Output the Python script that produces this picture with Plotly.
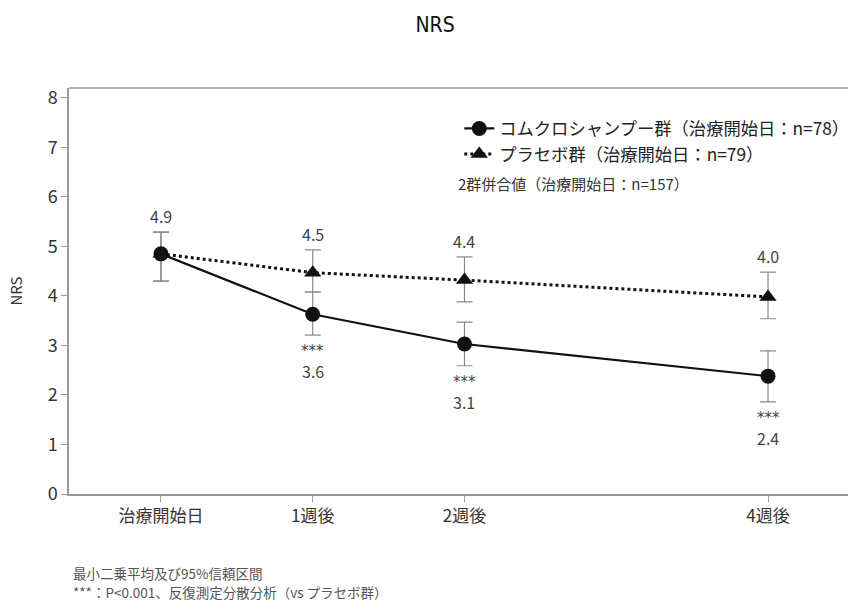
import plotly.graph_objects as go

weeks = [0, 1, 2, 4]
tick_labels = ["治療開始日", "1週後", "2週後", "4週後"]

comp_mean = [4.85, 3.63, 3.03, 2.38]
comp_upper = [5.29, 4.08, 3.47, 2.89]
comp_lower = [4.30, 3.21, 2.59, 1.86]
comp_labels = ["", "3.6", "3.1", "2.4"]
comp_sig = ["", "***", "***", "***"]

plac_mean = [4.85, 4.47, 4.32, 3.98]
plac_upper = [5.29, 4.93, 4.79, 4.48]
plac_lower = [4.30, 4.08, 3.88, 3.54]
plac_labels = ["4.9", "4.5", "4.4", "4.0"]

comp_name = "コムクロシャンプー群（治療開始日：n=78）"
plac_name = "プラセボ群（治療開始日：n=79）"
pooled_note = "2群併合値（治療開始日：n=157）"
footnotes = ["最小二乗平均及び95%信頼区間", "***：P<0.001、反復測定分散分析（vs プラセボ群）"]

FONT = "Noto Sans CJK JP, Noto Sans, sans-serif"
ERR = "#8a8a8a"

fig = go.Figure()

def err(mean, up, lo):
    return dict(type="data", symmetric=False,
                array=[u - m for u, m in zip(up, mean)],
                arrayminus=[m - l for m, l in zip(mean, lo)],
                color=ERR, thickness=1.2, width=8)

fig.add_trace(go.Scatter(
    x=weeks, y=plac_mean, name=plac_name, mode="lines+markers",
    line=dict(color="#111", width=3, dash="dot"),
    marker=dict(symbol="triangle-up", size=15, color="#111"),
    error_y=err(plac_mean, plac_upper, plac_lower),
))
fig.add_trace(go.Scatter(
    x=weeks, y=comp_mean, name=comp_name, mode="lines+markers",
    line=dict(color="#111", width=2.2),
    marker=dict(symbol="circle", size=15, color="#111"),
    error_y=err(comp_mean, comp_upper, comp_lower),
))

annots = []
for x, u, t in zip(weeks, plac_upper, plac_labels):
    if t:
        annots.append(dict(x=x, y=u, text=t, showarrow=False, yanchor="middle",
                           yshift=16, font=dict(size=16, color="#444", family=FONT)))
for x, l, s, t in zip(weeks, comp_lower, comp_sig, comp_labels):
    if t:
        annots.append(dict(x=x, y=l, text=s, showarrow=False, yanchor="middle",
                           yshift=-16, font=dict(size=15, color="#444", family="DejaVu Sans, sans-serif")))
        annots.append(dict(x=x, y=l, text=t, showarrow=False, yanchor="middle",
                           yshift=-36, font=dict(size=16, color="#444", family=FONT)))
annots.append(dict(xref="paper", yref="paper", x=0.497, y=0.766, xanchor="left",
                   yanchor="middle", text=pooled_note, showarrow=False,
                   font=dict(size=15, color="#333", family=FONT)))
for i, fn in enumerate(footnotes):
    annots.append(dict(xref="paper", yref="paper", x=0.003, y=-0.194 - i * 0.047,
                       xanchor="left", yanchor="middle", text=fn, showarrow=False,
                       font=dict(size=13.5, color="#555", family=FONT)))

fig.update_layout(
    width=848, height=601,
    margin=dict(l=69, r=0, t=88, b=107, autoexpand=False),
    paper_bgcolor="white", plot_bgcolor="white",
    font=dict(family=FONT, color="#333"),
    title=dict(text="NRS", x=0.513, xanchor="center", y=0.959, yanchor="middle",
               automargin=False,
               font=dict(family="DejaVu Sans Condensed, Liberation Sans Narrow", size=21, color="#111")),
    showlegend=True,
    legend=dict(x=0.501, y=0.869, xanchor="left", yanchor="middle",
                traceorder="reversed", bgcolor="rgba(0,0,0,0)",
                font=dict(size=17.3, color="#222", family=FONT),
                tracegroupgap=0, itemwidth=30),
    annotations=annots,
    xaxis=dict(range=[-0.606, 4.527], tickvals=weeks, ticktext=tick_labels,
               automargin=False,
               showgrid=False, zeroline=False, showline=True, linecolor="#999",
               linewidth=1.5, ticks="outside", ticklen=6, tickcolor="#999",
               tickfont=dict(size=17, color="#333", family=FONT), mirror=False),
    yaxis=dict(range=[0, 8.2], tickvals=list(range(0, 9)), showgrid=False,
               automargin=False,
               zeroline=False, showline=True, linecolor="#999", linewidth=1.5,
               ticks="outside", ticklen=6, tickcolor="#999",
               tickfont=dict(size=18, color="#333", family=FONT),
               title=dict(text="NRS", font=dict(size=15, color="#333", family=FONT), standoff=21)),
    shapes=[dict(type="line", xref="paper", yref="paper", x0=0, x1=1, y0=1, y1=1,
                 line=dict(color="#999", width=1.5))],
)

fig.write_html("out.html", config={"displayModeBar": False},
               post_script="document.body.style.margin='0';document.body.style.overflow='hidden';")
